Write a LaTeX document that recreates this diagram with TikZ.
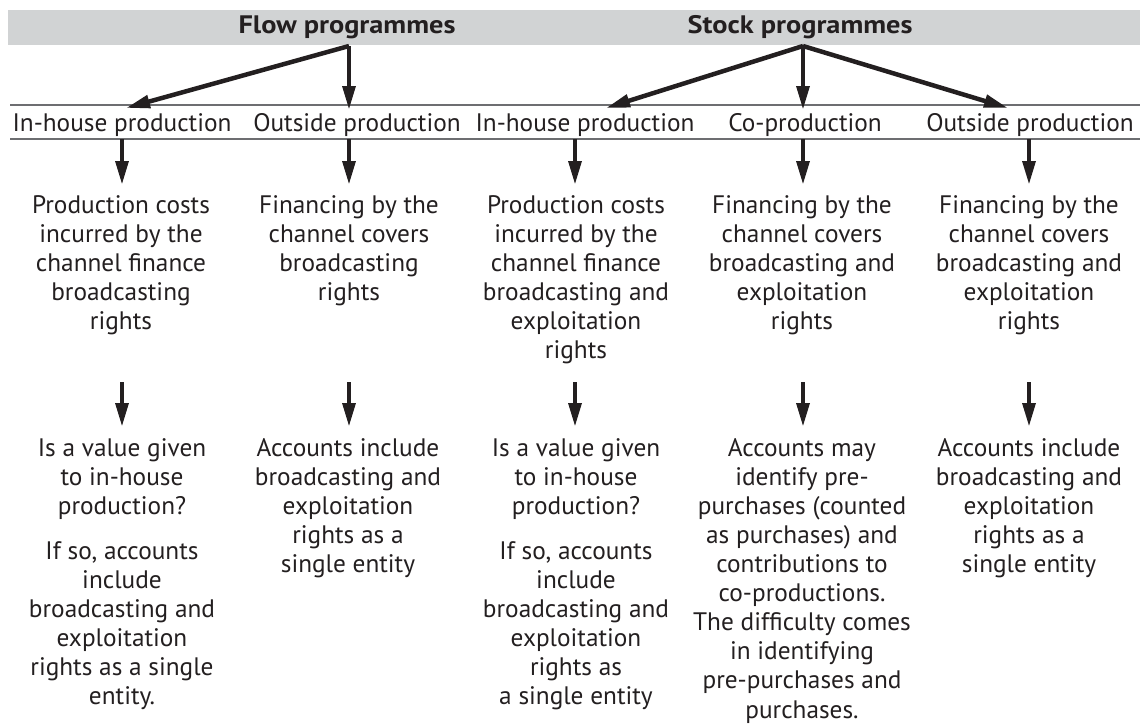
\documentclass[tikz,border=0pt]{standalone}
\usepackage{fontspec}
\setmainfont{PT Sans}
\newfontfamily\headfont{PT Sans}[FakeStretch=1.12]
\usetikzlibrary{arrows.meta}
\definecolor{ink}{HTML}{231F20}
\definecolor{bandgray}{HTML}{D1D3D4}
\definecolor{rulegray}{HTML}{6D6E71}
\newcommand{\bodysize}{\fontsize{25.3}{29}\selectfont}
\newcommand{\notesize}{\fontsize{25.3}{29.1}\selectfont}
\begin{document}
\begin{tikzpicture}[x=1pt,y=-1pt,
  headtext/.style={font=\headfont\fontsize{25.3}{29}\selectfont\bfseries, text=ink, inner sep=0pt, anchor=base},
  labeltext/.style={font=\bodysize, text=ink, inner sep=0pt, anchor=base},
  bodytext/.style={font=\bodysize, text=ink, align=center, inner sep=0pt, anchor=north},
  notetext/.style={font=\notesize, text=ink, align=center, inner sep=0pt, anchor=north},
  fat/.style={draw=ink, line width=4.5pt, -{Triangle[length=24pt,width=12.5pt]}},
  ]
\useasboundingbox (0,0) rectangle (1140,726);

% header band and the two programme types
\fill[bandgray] (8,10) rectangle (1140,45);
\node[headtext] (flow) at (347,33) {Flow programmes};
\node[headtext] (stock) at (800,33) {Stock programmes};
\coordinate (flowroot) at (349,46);
\coordinate (stockroot) at (803,46);

% rules framing the production types
\draw[rulegray, line width=1.1pt] (10,105) -- (1140,105);
\draw[rulegray, line width=1.1pt] (10,139) -- (1140,139);

% production types
\node[labeltext] (l1) at (122,131) {In-house production};
\node[labeltext] (l2) at (357,131) {Outside production};
\node[labeltext] (l3) at (585,131) {In-house production};
\node[labeltext] (l4) at (805,131) {Co-production};
\node[labeltext] (l5) at (1030,131) {Outside production};

% arrow ends on the upper rule
\coordinate (t1) at (126,108);
\coordinate (t2) at (349,110);
\coordinate (t3) at (606,108);
\coordinate (t4) at (803,110);
\coordinate (t5) at (1008,108);

\draw[fat] (flowroot) -- (t1);
\draw[fat] (flowroot) -- (t2);
\draw[fat] (stockroot) -- (t3);
\draw[fat] (stockroot) -- (t4);
\draw[fat] (stockroot) -- (t5);

% financing of the rights
\node[bodytext] (f1) at (121,192.7) {\strut Production costs\\incurred by the\\channel finance\\broadcasting\\rights};
\node[bodytext] (f2) at (349,192.7) {\strut Financing by the\\channel covers\\broadcasting\\rights};
\node[bodytext] (f3) at (576,192.7) {\strut Production costs\\incurred by the\\channel finance\\broadcasting and\\exploitation\\rights};
\node[bodytext] (f4) at (802,192.7) {\strut Financing by the\\channel covers\\broadcasting and\\exploitation\\rights};
\node[bodytext] (f5) at (1029,192.7) {\strut Financing by the\\channel covers\\broadcasting and\\exploitation\\rights};

% treatment in the accounts
\node[notetext] (a1) at (122,435.6) {\strut Is a value given\\to in-house\\production?\\[16pt]If so, accounts\\include\\broadcasting and\\exploitation\\rights as a single\\entity.};
\node[notetext] (a2) at (348,435.6) {\strut Accounts include\\broadcasting and\\exploitation\\rights as a\\single entity};
\node[notetext] (a3) at (576,435.6) {\strut Is a value given\\to in-house\\production?\\[16pt]If so, accounts\\include\\broadcasting and\\exploitation\\rights as\\a single entity};
\node[notetext] (a4) at (802,435.6) {\strut Accounts may\\identify pre-\\purchases (counted\\as purchases) and\\contributions to\\co-productions.\\The difficulty comes\\in identifying\\pre-purchases and\\purchases.};
\node[notetext] (a5) at (1029,435.6) {\strut Accounts include\\broadcasting and\\exploitation\\rights as a\\single entity};

% vertical arrows between the rows
\foreach \i/\x in {1/122,2/349,3/575,4/803,5/1029}{
  \coordinate (u\i) at (\x,139);
  \coordinate (v\i) at (\x,185);
  \coordinate (p\i) at (\x,382);
  \coordinate (q\i) at (\x,427);
  \draw[fat] (u\i) -- (v\i);
  \draw[fat] (p\i) -- (q\i);
}
\end{tikzpicture}
\end{document}
